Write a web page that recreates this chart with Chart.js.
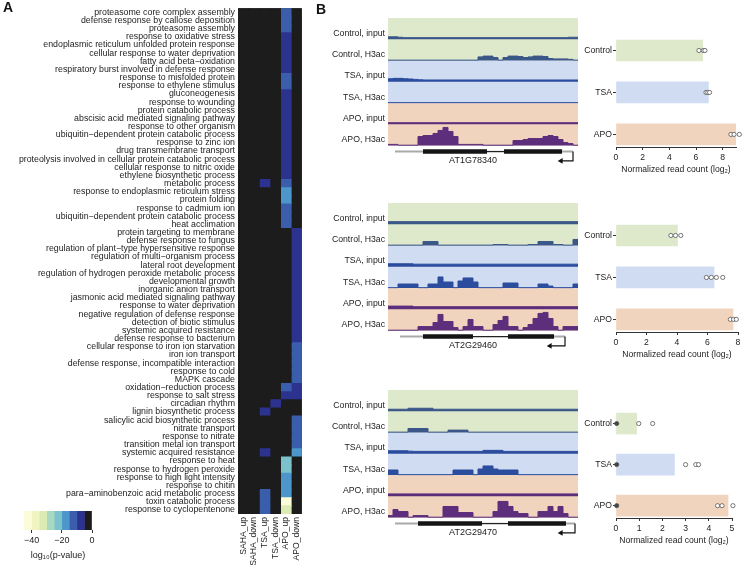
<!DOCTYPE html>
<html>
<head>
<meta charset="utf-8">
<script src="https://cdn.jsdelivr.net/npm/chart.js@4.4.0/dist/chart.umd.min.js"></script>
<style>
  body { margin: 0; background: #fff; }
  #fig { position: relative; width: 742px; height: 565px; overflow: hidden; font-family: 'Liberation Sans', Arial, sans-serif; }
  #fig canvas { position: absolute; }
  .panel { position: absolute; font-weight: bold; font-size: 14px; color: #111; }
</style>
</head>
<body>
<div id="fig">
  <canvas id="heat" width="310" height="565" style="left:0;top:0"></canvas>
  <canvas id="cbar" width="110" height="60" style="left:0;top:505px"></canvas>
  <canvas id="trk1" width="278" height="151" style="left:300px;top:18px"></canvas>
  <canvas id="trk2" width="278" height="151" style="left:300px;top:203px"></canvas>
  <canvas id="trk3" width="278" height="151" style="left:300px;top:390px"></canvas>
  <canvas id="bar1" width="185" height="155" style="left:560px;top:20px"></canvas>
  <canvas id="bar2" width="185" height="155" style="left:560px;top:205px"></canvas>
  <canvas id="bar3" width="185" height="153" style="left:560px;top:393px"></canvas>
  <div class="panel" style="left:3px;top:-1px">A</div>
  <div class="panel" style="left:316px;top:1px">B</div>
</div>
<script>
Chart.defaults.font.family = "'Liberation Sans', Arial, sans-serif";
Chart.defaults.color = '#222';

// ---- panel A: GO term enrichment, log10(p-value) ----
const terms = [
  'proteasome core complex assembly', 'defense response by callose deposition', 'proteasome assembly',
  'response to oxidative stress', 'endoplasmic reticulum unfolded protein response',
  'cellular response to water deprivation', 'fatty acid beta\u2212oxidation',
  'respiratory burst involved in defense response', 'response to misfolded protein',
  'response to ethylene stimulus', 'gluconeogenesis', 'response to wounding', 'protein catabolic process',
  'abscisic acid mediated signaling pathway', 'response to other organism',
  'ubiquitin\u2212dependent protein catabolic process', 'response to zinc ion', 'drug transmembrane transport',
  'proteolysis involved in cellular protein catabolic process', 'cellular response to nitric oxide',
  'ethylene biosynthetic process', 'metabolic process', 'response to endoplasmic reticulum stress',
  'protein folding', 'response to cadmium ion', 'ubiquitin\u2212dependent protein catabolic process',
  'heat acclimation', 'protein targeting to membrane', 'defense response to fungus',
  'regulation of plant\u2212type hypersensitive response', 'regulation of multi\u2212organism process',
  'lateral root development', 'regulation of hydrogen peroxide metabolic process', 'developmental growth',
  'inorganic anion transport', 'jasmonic acid mediated signaling pathway', 'response to water deprivation',
  'negative regulation of defense response', 'detection of biotic stimulus', 'systemic acquired resistance',
  'defense response to bacterium', 'cellular response to iron ion starvation', 'iron ion transport',
  'defense response, incompatible interaction', 'response to cold', 'MAPK cascade',
  'oxidation\u2212reduction process', 'response to salt stress', 'circadian rhythm',
  'lignin biosynthetic process', 'salicylic acid biosynthetic process', 'nitrate transport',
  'response to nitrate', 'transition metal ion transport', 'systemic acquired resistance',
  'response to heat', 'response to hydrogen peroxide', 'response to high light intensity',
  'response to chitin', 'para\u2212aminobenzoic acid metabolic process', 'toxin catabolic process',
  'response to cyclopentenone'
];
const conditions = ['SAHA_up', 'SAHA_down', 'TSA_up', 'TSA_down', 'APO_up', 'APO_down'];

const sahaUp = [
  0,0,0,0,0,0,0,0,0,0, 0,0,0,0,0,0,0,0,0,0, 0,0,0,0,0,0,0,0,0,0,
  0,0,0,0,0,0,0,0,0,0, 0,0,0,0,0,0,0,0,0,0, 0,0,0,0,0,0,0,0,0,0, 0,0];
const sahaDown = [
  0,0,0,0,0,0,0,0,0,0, 0,0,0,0,0,0,0,0,0,0, 0,0,0,0,0,0,0,0,0,0,
  0,0,0,0,0,0,0,0,0,0, 0,0,0,0,0,0,0,0,0,0, 0,0,0,0,0,0,0,0,0,0, 0,0];
const tsaUp = [
  0,0,0,0,0,0,0,0,0,0, 0,0,0,0,0,0,0,0,0,0, 0,-7,0,0,0,0,0,0,0,0,
  0,0,0,0,0,0,0,0,0,0, 0,0,0,0,0,0,0,0,0,-7, 0,0,0,0,-7,0,0,0,0,-12, -12,-12];
const tsaDown = [
  0,0,0,0,0,0,0,0,0,0, 0,0,0,0,0,0,0,0,0,0, 0,0,0,0,0,0,0,0,0,0,
  0,0,0,0,0,0,0,0,0,0, 0,0,0,0,0,0,0,0,-7,0, 0,0,0,0,0,0,0,0,0,0, 0,0];
const apoUp = [
  -12,-12,-12,-7,-7,-7,-7,-7,-12,-12, -7,-7,-7,-7,-7,-7,-7,-7,-7,-7,
  -7,-12,-17,-17,-12,-12,-12,0,0,0, 0,0,0,0,0,0,0,0,0,0,
  0,0,0,0,0,0,-12,-7,0,0, 0,0,0,0,0,-22,-22,-17,-17,-17, -42,-32];
const apoDown = [
  0,0,0,0,0,0,0,0,0,0, 0,0,0,0,0,0,0,0,0,0, 0,0,0,0,0,0,0,-7,-7,-7,
  -7,-7,-7,-7,-7,-7,-7,-7,-7,-7, -7,-12,-12,-12,-12,-12,-7,-7,0,0,
  -12,-12,-12,-12,-17,0,0,0,0,0, 0,0];

const binEdges = [-45, -40, -35, -30, -25, -20, -15, -10, -5, 0];
const binColors = ['#fdfcd8', '#f1f3c0', '#dbebb4', '#a8d8bf', '#7cc2cd', '#4d96cb', '#3a5eab', '#2c338f', '#1c1c1c'];

// ---- panel B: browser tracks (signal per 5 px bin, fraction of track height) ----
const trackNames = ['Control, input', 'Control, H3ac', 'TSA, input', 'TSA, H3ac', 'APO, input', 'APO, H3ac'];

const g1CtrlIn = [0.12,0.12,0.10,0.08,0.08,0.08,0.08,0.08,0.08,0.08, 0.08,0.08,0.08,0.08,0.08,0.08,0.08,0.08,0.08,0.08,
                  0.08,0.08,0.08,0.08,0.08,0.08,0.08,0.08,0.08,0.08, 0.08,0.08,0.08,0.08,0.08,0.08,0.10,0.10];
const g1CtrlAc = [0.02,0.02,0.02,0.02,0.02,0.02,0.02,0.02,0.02,0.02, 0.02,0.02,0.02,0.02,0.02,0.02,0.02,0.02,0.18,0.22,
                  0.22,0.15,0.02,0.15,0.22,0.22,0.20,0.15,0.18,0.22, 0.22,0.20,0.10,0.08,0.08,0.08,0.06,0.02];
const g1TsaIn  = [0.15,0.17,0.17,0.15,0.14,0.12,0.10,0.09,0.09,0.09, 0.09,0.09,0.09,0.09,0.09,0.09,0.09,0.09,0.09,0.09,
                  0.09,0.09,0.09,0.09,0.09,0.09,0.09,0.09,0.09,0.09, 0.09,0.09,0.09,0.09,0.09,0.09,0.09,0.09];
const g1TsaAc  = [0.02,0.02,0.02,0.02,0.02,0.02,0.02,0.02,0.02,0.02, 0.02,0.02,0.02,0.02,0.02,0.02,0.02,0.02,0.02,0.02,
                  0.02,0.02,0.02,0.02,0.02,0.02,0.02,0.02,0.02,0.02, 0.02,0.02,0.02,0.02,0.02,0.02,0.02,0.02];
const g1ApoIn  = [0.08,0.08,0.08,0.08,0.08,0.08,0.08,0.08,0.08,0.08, 0.08,0.08,0.08,0.08,0.08,0.08,0.08,0.08,0.08,0.08,
                  0.08,0.08,0.08,0.08,0.08,0.08,0.08,0.08,0.08,0.08, 0.08,0.08,0.08,0.08,0.08,0.08,0.08,0.08];
const g1ApoAc  = [0.06,0.06,0.02,0.02,0.02,0.02,0.45,0.50,0.50,0.60, 0.75,0.90,0.70,0.45,0.06,0.06,0.06,0.06,0.06,0.02,
                  0.02,0.02,0.02,0.02,0.02,0.25,0.25,0.30,0.35,0.35, 0.35,0.45,0.50,0.45,0.30,0.15,0.10,0.02];

const g2CtrlIn = [0.13,0.13,0.13,0.13,0.13,0.13,0.13,0.13,0.13,0.13, 0.13,0.13,0.13,0.13,0.13,0.13,0.13,0.13,0.13,0.13,
                  0.13,0.13,0.13,0.13,0.13,0.13,0.13,0.13,0.13,0.13, 0.13,0.13,0.13,0.13,0.13,0.13,0.13,0.13];
const g2CtrlAc = [0.02,0.02,0.02,0.02,0.02,0.02,0.02,0.20,0.20,0.20, 0.02,0.02,0.02,0.02,0.02,0.02,0.02,0.02,0.02,0.02,
                  0.02,0.05,0.05,0.05,0.02,0.02,0.02,0.02,0.05,0.05, 0.20,0.20,0.20,0.05,0.05,0.02,0.02,0.30];
const g2TsaIn  = [0.15,0.15,0.15,0.15,0.15,0.13,0.13,0.13,0.13,0.13, 0.13,0.13,0.13,0.13,0.13,0.13,0.13,0.13,0.13,0.13,
                  0.13,0.13,0.13,0.13,0.13,0.13,0.13,0.13,0.13,0.13, 0.13,0.13,0.13,0.13,0.13,0.13,0.13,0.13];
const g2TsaAc  = [0.02,0.02,0.20,0.20,0.20,0.20,0.02,0.02,0.20,0.20, 0.55,0.30,0.30,0.02,0.35,0.50,0.50,0.30,0.02,0.02,
                  0.02,0.02,0.02,0.25,0.25,0.25,0.02,0.02,0.02,0.02, 0.20,0.20,0.10,0.02,0.02,0.02,0.02,0.20];
const g2ApoIn  = [0.16,0.16,0.16,0.16,0.16,0.13,0.13,0.13,0.13,0.13, 0.13,0.13,0.13,0.13,0.13,0.13,0.13,0.13,0.13,0.13,
                  0.13,0.13,0.13,0.13,0.13,0.13,0.13,0.13,0.13,0.13, 0.13,0.13,0.13,0.13,0.13,0.13,0.13,0.13];
const g2ApoAc  = [0.02,0.02,0.02,0.02,0.02,0.02,0.20,0.20,0.20,0.40, 0.80,0.45,0.45,0.15,0.02,0.20,0.55,0.20,0.20,0.02,
                  0.02,0.30,0.50,0.70,0.20,0.20,0.02,0.15,0.30,0.60, 0.85,0.90,0.60,0.20,0.02,0.20,0.20,0.20];

const g3CtrlIn = [0.10,0.10,0.10,0.10,0.15,0.15,0.15,0.15,0.15,0.10, 0.10,0.10,0.10,0.10,0.10,0.10,0.10,0.10,0.10,0.10,
                  0.10,0.10,0.10,0.10,0.10,0.10,0.10,0.10,0.10,0.10, 0.10,0.10,0.10,0.10,0.10,0.10,0.10,0.10];
const g3CtrlAc = [0.02,0.02,0.02,0.02,0.20,0.20,0.20,0.20,0.02,0.02, 0.02,0.02,0.12,0.12,0.12,0.12,0.02,0.02,0.02,0.02,
                  0.02,0.02,0.02,0.02,0.02,0.02,0.02,0.02,0.02,0.02, 0.02,0.02,0.02,0.02,0.02,0.02,0.02,0.02];
const g3TsaIn  = [0.15,0.15,0.15,0.15,0.13,0.12,0.12,0.12,0.12,0.12, 0.12,0.12,0.12,0.12,0.12,0.12,0.12,0.12,0.12,0.17,
                  0.17,0.17,0.17,0.12,0.12,0.12,0.12,0.12,0.12,0.12, 0.12,0.12,0.12,0.12,0.12,0.12,0.12,0.12];
const g3TsaAc  = [0.25,0.25,0.02,0.02,0.02,0.02,0.02,0.02,0.02,0.02, 0.02,0.02,0.02,0.25,0.25,0.25,0.25,0.02,0.30,0.45,
                  0.45,0.30,0.25,0.25,0.25,0.25,0.02,0.02,0.02,0.02, 0.02,0.02,0.02,0.02,0.02,0.02,0.02,0.02];
const g3ApoIn  = [0.12,0.12,0.12,0.12,0.12,0.12,0.12,0.12,0.12,0.12, 0.12,0.12,0.12,0.12,0.12,0.12,0.12,0.12,0.12,0.12,
                  0.12,0.12,0.12,0.12,0.12,0.12,0.12,0.12,0.12,0.12, 0.12,0.12,0.12,0.12,0.12,0.12,0.12,0.12];
const g3ApoAc  = [0.10,0.40,0.30,0.30,0.02,0.10,0.10,0.10,0.02,0.02, 0.02,0.55,0.55,0.55,0.25,0.25,0.25,0.02,0.02,0.02,
                  0.02,0.30,0.80,0.80,0.55,0.30,0.20,0.20,0.02,0.02, 0.30,0.30,0.55,0.30,0.55,0.20,0.02,0.02];

// gene models in bin units
const gene1 = { name: 'AT1G78340', start: 1.4, exons: [[7.0, 19.8], [23.2, 34.8]], end: 37.0, tip: 34.0 };
const gene2 = { name: 'AT2G29460', start: 2.4, exons: [[7.0, 17.0], [24.0, 33.2]], end: 35.4, tip: 31.8 };
const gene3 = { name: 'AT2G29470', start: 1.4, exons: [[6.0, 18.8], [24.0, 35.6]], end: 37.4, tip: 34.0 };

// ---- panel B: normalized read counts (log2) ----
const groups = ['Control', 'TSA', 'APO'];
const bar1 = [6.5, 6.93, 9.0];
const reps1 = [[6.22, 6.55, 6.67], [6.75, 6.88, 7.02], [8.62, 8.85, 9.25]];
const bar2 = [4.03, 6.43, 7.67];
const reps2 = [[3.6, 3.9, 4.25], [5.93, 6.25, 6.58, 7.0], [7.5, 7.71, 7.89]];
const bar3 = [0.89, 2.52, 4.83];
const reps3 = [[0.03, 0.98, 1.58], [0.03, 3.0, 3.44, 3.56], [0.03, 4.38, 4.57, 5.04, 5.22]];

const groupColors = ['#dee9cb', '#cfdcf1', '#f1d4bd'];
const trackColors = ['#3b5788', '#3b5788', '#2c4c9e', '#2c4c9e', '#5c2e7c', '#5c2e7c'];

function cellColor(v) {
  let k = Math.floor((v - binEdges[0]) / 5);
  if (k > 8) k = 8;
  if (k < 0) k = 0;
  return binColors[k];
}

const baseOpts = {
  responsive: false,
  animation: false,
  devicePixelRatio: 1,
  events: [],
};
const noPlugins = { legend: { display: false }, tooltip: { enabled: false } };

// heatmap (black underlay so anti-aliased seams between rows disappear)
const heatUnderlay = {
  id: 'heatUnderlay',
  beforeDatasetsDraw(chart) {
    const { ctx, chartArea: a } = chart;
    ctx.save();
    ctx.fillStyle = binColors[8];
    ctx.fillRect(a.left, a.top, a.right - a.left, a.bottom - a.top);
    ctx.restore();
  }
};
const heatCols = [sahaUp, sahaDown, tsaUp, tsaDown, apoUp, apoDown];
new Chart(document.getElementById('heat'), {
  type: 'bar',
  data: {
    labels: terms,
    datasets: heatCols.map((col, c) => ({
      label: conditions[c],
      data: col.map(() => [c, c + 1]),
      backgroundColor: col.map(cellColor),
      borderWidth: 0,
      inflateAmount: 0.5,
      grouped: false,
      barPercentage: 1,
      categoryPercentage: 1
    }))
  },
  options: {
    ...baseOpts,
    indexAxis: 'y',
    layout: { padding: { top: 7, right: 3, left: 0, bottom: 0 }, autoPadding: false },
    plugins: noPlugins,
    scales: {
      x: {
        type: 'linear', min: 0, max: 6,
        grid: { display: false, drawTicks: false }, border: { display: false },
        afterBuildTicks: s => { s.ticks = [0.5, 1.5, 2.5, 3.5, 4.5, 5.5].map(v => ({ value: v })); },
        afterFit: s => { s.height = 51; },
        ticks: { minRotation: 90, maxRotation: 90, padding: 3, font: { size: 8.6 }, callback: v => conditions[Math.floor(v)] }
      },
      y: {
        type: 'category',
        grid: { display: false, drawTicks: false }, border: { display: false },
        afterFit: s => { s.width = 238; },
        ticks: { autoSkip: false, padding: 3, font: { size: 8.8 } }
      }
    }
  },
  plugins: [heatUnderlay]
});

// colour key
new Chart(document.getElementById('cbar'), {
  type: 'bar',
  data: {
    labels: [''],
    datasets: binColors.map((c, k) => ({
      data: [[binEdges[k], binEdges[k + 1]]],
      backgroundColor: c,
      borderWidth: 0,
      grouped: false,
      barPercentage: 1,
      categoryPercentage: 1
    }))
  },
  options: {
    ...baseOpts,
    indexAxis: 'y',
    layout: { padding: { top: 6, right: 18, left: 24, bottom: 0 }, autoPadding: false },
    plugins: noPlugins,
    scales: {
      x: {
        type: 'linear', min: -45, max: 0,
        grid: { drawOnChartArea: false, drawTicks: true, tickLength: 3, color: '#333' },
        border: { display: false },
        afterBuildTicks: s => { s.ticks = [-40, -20, 0].map(v => ({ value: v })); },
        afterFit: s => { s.height = 35; },
        ticks: { padding: 2, font: { size: 9 }, callback: v => v < 0 ? '\u2212' + (-v) : String(v) },
        title: { display: true, text: 'log\u2081\u2080(p-value)', font: { size: 9 }, padding: { top: 0, bottom: 4 } }
      },
      y: { display: false }
    }
  }
});

// browser tracks
function trackChart(id, tracks, gene) {
  const gy = -0.28, ay = -0.72;
  const datasets = [];
  // gene model
  datasets.push({ data: [{ x: gene.tip + 0.6, y: ay }], showLine: false, pointStyle: 'triangle', pointRotation: -90,
    pointRadius: 3.3, pointBackgroundColor: '#111', pointBorderColor: '#111', pointBorderWidth: 0 });
  datasets.push({ data: [{ x: gene.end, y: gy }, { x: gene.end, y: ay }, { x: gene.tip + 0.8, y: ay }],
    borderColor: '#111', borderWidth: 1.2, pointRadius: 0 });
  datasets.push({ data: [{ x: gene.exons[0][0], y: gy }, { x: gene.exons[0][1], y: gy }, { x: gene.exons[0][1], y: null },
    { x: gene.exons[1][0], y: gy }, { x: gene.exons[1][1], y: gy }],
    borderColor: '#151515', borderWidth: 4.5, pointRadius: 0 });
  datasets.push({ data: [{ x: gene.exons[0][1], y: gy }, { x: gene.exons[1][0], y: gy }],
    borderColor: '#222', borderWidth: 1.3, pointRadius: 0 });
  datasets.push({ data: [{ x: gene.start, y: gy }, { x: gene.exons[0][0], y: gy }, { x: gene.exons[0][0], y: null },
    { x: gene.exons[1][1], y: gy }, { x: gene.end, y: gy }],
    borderColor: '#a9a9a9', borderWidth: 2, pointRadius: 0 });
  // signal tracks
  tracks.forEach((vals, k) => {
    const base = 5 - k;
    const pts = vals.map((v, i) => ({ x: i, y: base + v * 0.95 }));
    pts.push({ x: vals.length, y: base + vals[vals.length - 1] * 0.95 });
    datasets.push({
      data: pts, stepped: true, borderColor: trackColors[k], backgroundColor: trackColors[k],
      borderWidth: 1, pointRadius: 0, fill: { value: base }
    });
  });
  const bgPlugin = {
    id: 'trackBg',
    beforeDatasetsDraw(chart) {
      const { ctx, chartArea: a, scales: { y } } = chart;
      ctx.save();
      groupColors.forEach((c, g) => {
        const top = y.getPixelForValue(6 - 2 * g), bot = y.getPixelForValue(4 - 2 * g);
        ctx.fillStyle = c;
        ctx.fillRect(a.left, top, a.right - a.left, bot - top);
      });
      ctx.restore();
    },
    afterDatasetsDraw(chart) {
      const { ctx, scales: { x, y } } = chart;
      ctx.save();
      ctx.font = "9px 'Liberation Sans', Arial, sans-serif";
      ctx.fillStyle = '#222';
      ctx.textAlign = 'center';
      ctx.textBaseline = 'middle';
      ctx.fillText(gene.name, x.getPixelForValue(17), y.getPixelForValue(ay));
      ctx.restore();
    }
  };
  new Chart(document.getElementById(id), {
    type: 'line',
    data: { datasets },
    options: {
      ...baseOpts,
      layout: { padding: 0, autoPadding: false },
      plugins: noPlugins,
      scales: {
        x: { type: 'linear', display: false, min: 0, max: 38 },
        y: {
          type: 'linear', min: -1.1, max: 6,
          grid: { display: false, drawTicks: false }, border: { display: false },
          afterFit: s => { s.width = 88; s.paddingTop = 0; s.paddingBottom = 0; },
          afterBuildTicks: s => { s.ticks = [5.28, 4.28, 3.28, 2.28, 1.28, 0.28].map(v => ({ value: v })); },
          ticks: { padding: 3, font: { size: 8.7 }, callback: (v, i) => trackNames[i] }
        }
      }
    },
    plugins: [bgPlugin]
  });
}

trackChart('trk1', [g1CtrlIn, g1CtrlAc, g1TsaIn, g1TsaAc, g1ApoIn, g1ApoAc], gene1);
trackChart('trk2', [g2CtrlIn, g2CtrlAc, g2TsaIn, g2TsaAc, g2ApoIn, g2ApoAc], gene2);
trackChart('trk3', [g3CtrlIn, g3CtrlAc, g3TsaIn, g3TsaAc, g3ApoIn, g3ApoAc], gene3);

// read count bars
function barChart(id, vals, reps, maxX, tickVals, pad) {
  const pts = [];
  reps.forEach((r, i) => r.forEach(v => pts.push({ x: v, y: i })));
  new Chart(document.getElementById(id), {
    type: 'bar',
    data: {
      datasets: [
        {
          type: 'scatter', data: pts, clip: false,
          pointRadius: 2.1, pointBorderWidth: 0.8, pointBorderColor: '#555',
          pointBackgroundColor: c => (c.raw && c.raw.x < 0.2) ? '#444' : '#fff'
        },
        {
          type: 'bar', indexAxis: 'y', data: vals.map((v, i) => ({ x: v, y: i })),
          backgroundColor: groupColors, borderWidth: 0, barThickness: 21
        }
      ]
    },
    options: {
      ...baseOpts,
      indexAxis: 'y',
      layout: { padding: pad, autoPadding: false },
      plugins: noPlugins,
      scales: {
        x: {
          type: 'linear', min: 0, max: maxX, offset: false,
          grid: { drawOnChartArea: false, drawTicks: true, tickLength: 3, color: '#333', offset: false },
          border: { display: true, color: '#333', width: 1 },
          afterBuildTicks: s => { s.ticks = tickVals.map(v => ({ value: v })); },
          afterFit: s => { s.height = 28; },
          ticks: { padding: 2, font: { size: 8.6 } },
          title: { display: true, text: 'Normalized read count (log\u2082)', font: { size: 8.6 }, padding: { top: 0, bottom: 0 } }
        },
        y: {
          type: 'linear', reverse: true, min: -0.5, max: 2.3, offset: false,
          grid: { drawOnChartArea: false, drawTicks: true, tickLength: 3, color: '#333', offset: false },
          border: { display: false },
          afterBuildTicks: s => { s.ticks = [0, 1, 2].map(v => ({ value: v })); },
          afterFit: s => { s.width = 56; s.paddingTop = 0; s.paddingBottom = 0; },
          ticks: { padding: 1, font: { size: 8.6 }, callback: (v, i) => groups[i] }
        }
      }
    }
  });
}

barChart('bar1', bar1, reps1, 9, [0, 2, 4, 6, 8], { top: 9.5, right: 9, left: 0, bottom: 0 });
barChart('bar2', bar2, reps2, 8, [0, 2, 4, 6, 8], { top: 9.5, right: 7, left: 0, bottom: 0 });
barChart('bar3', bar3, reps3, 5, [0, 1, 2, 3, 4, 5], { top: 10, right: 13, left: 0, bottom: 0 });
</script>
</body>
</html>
